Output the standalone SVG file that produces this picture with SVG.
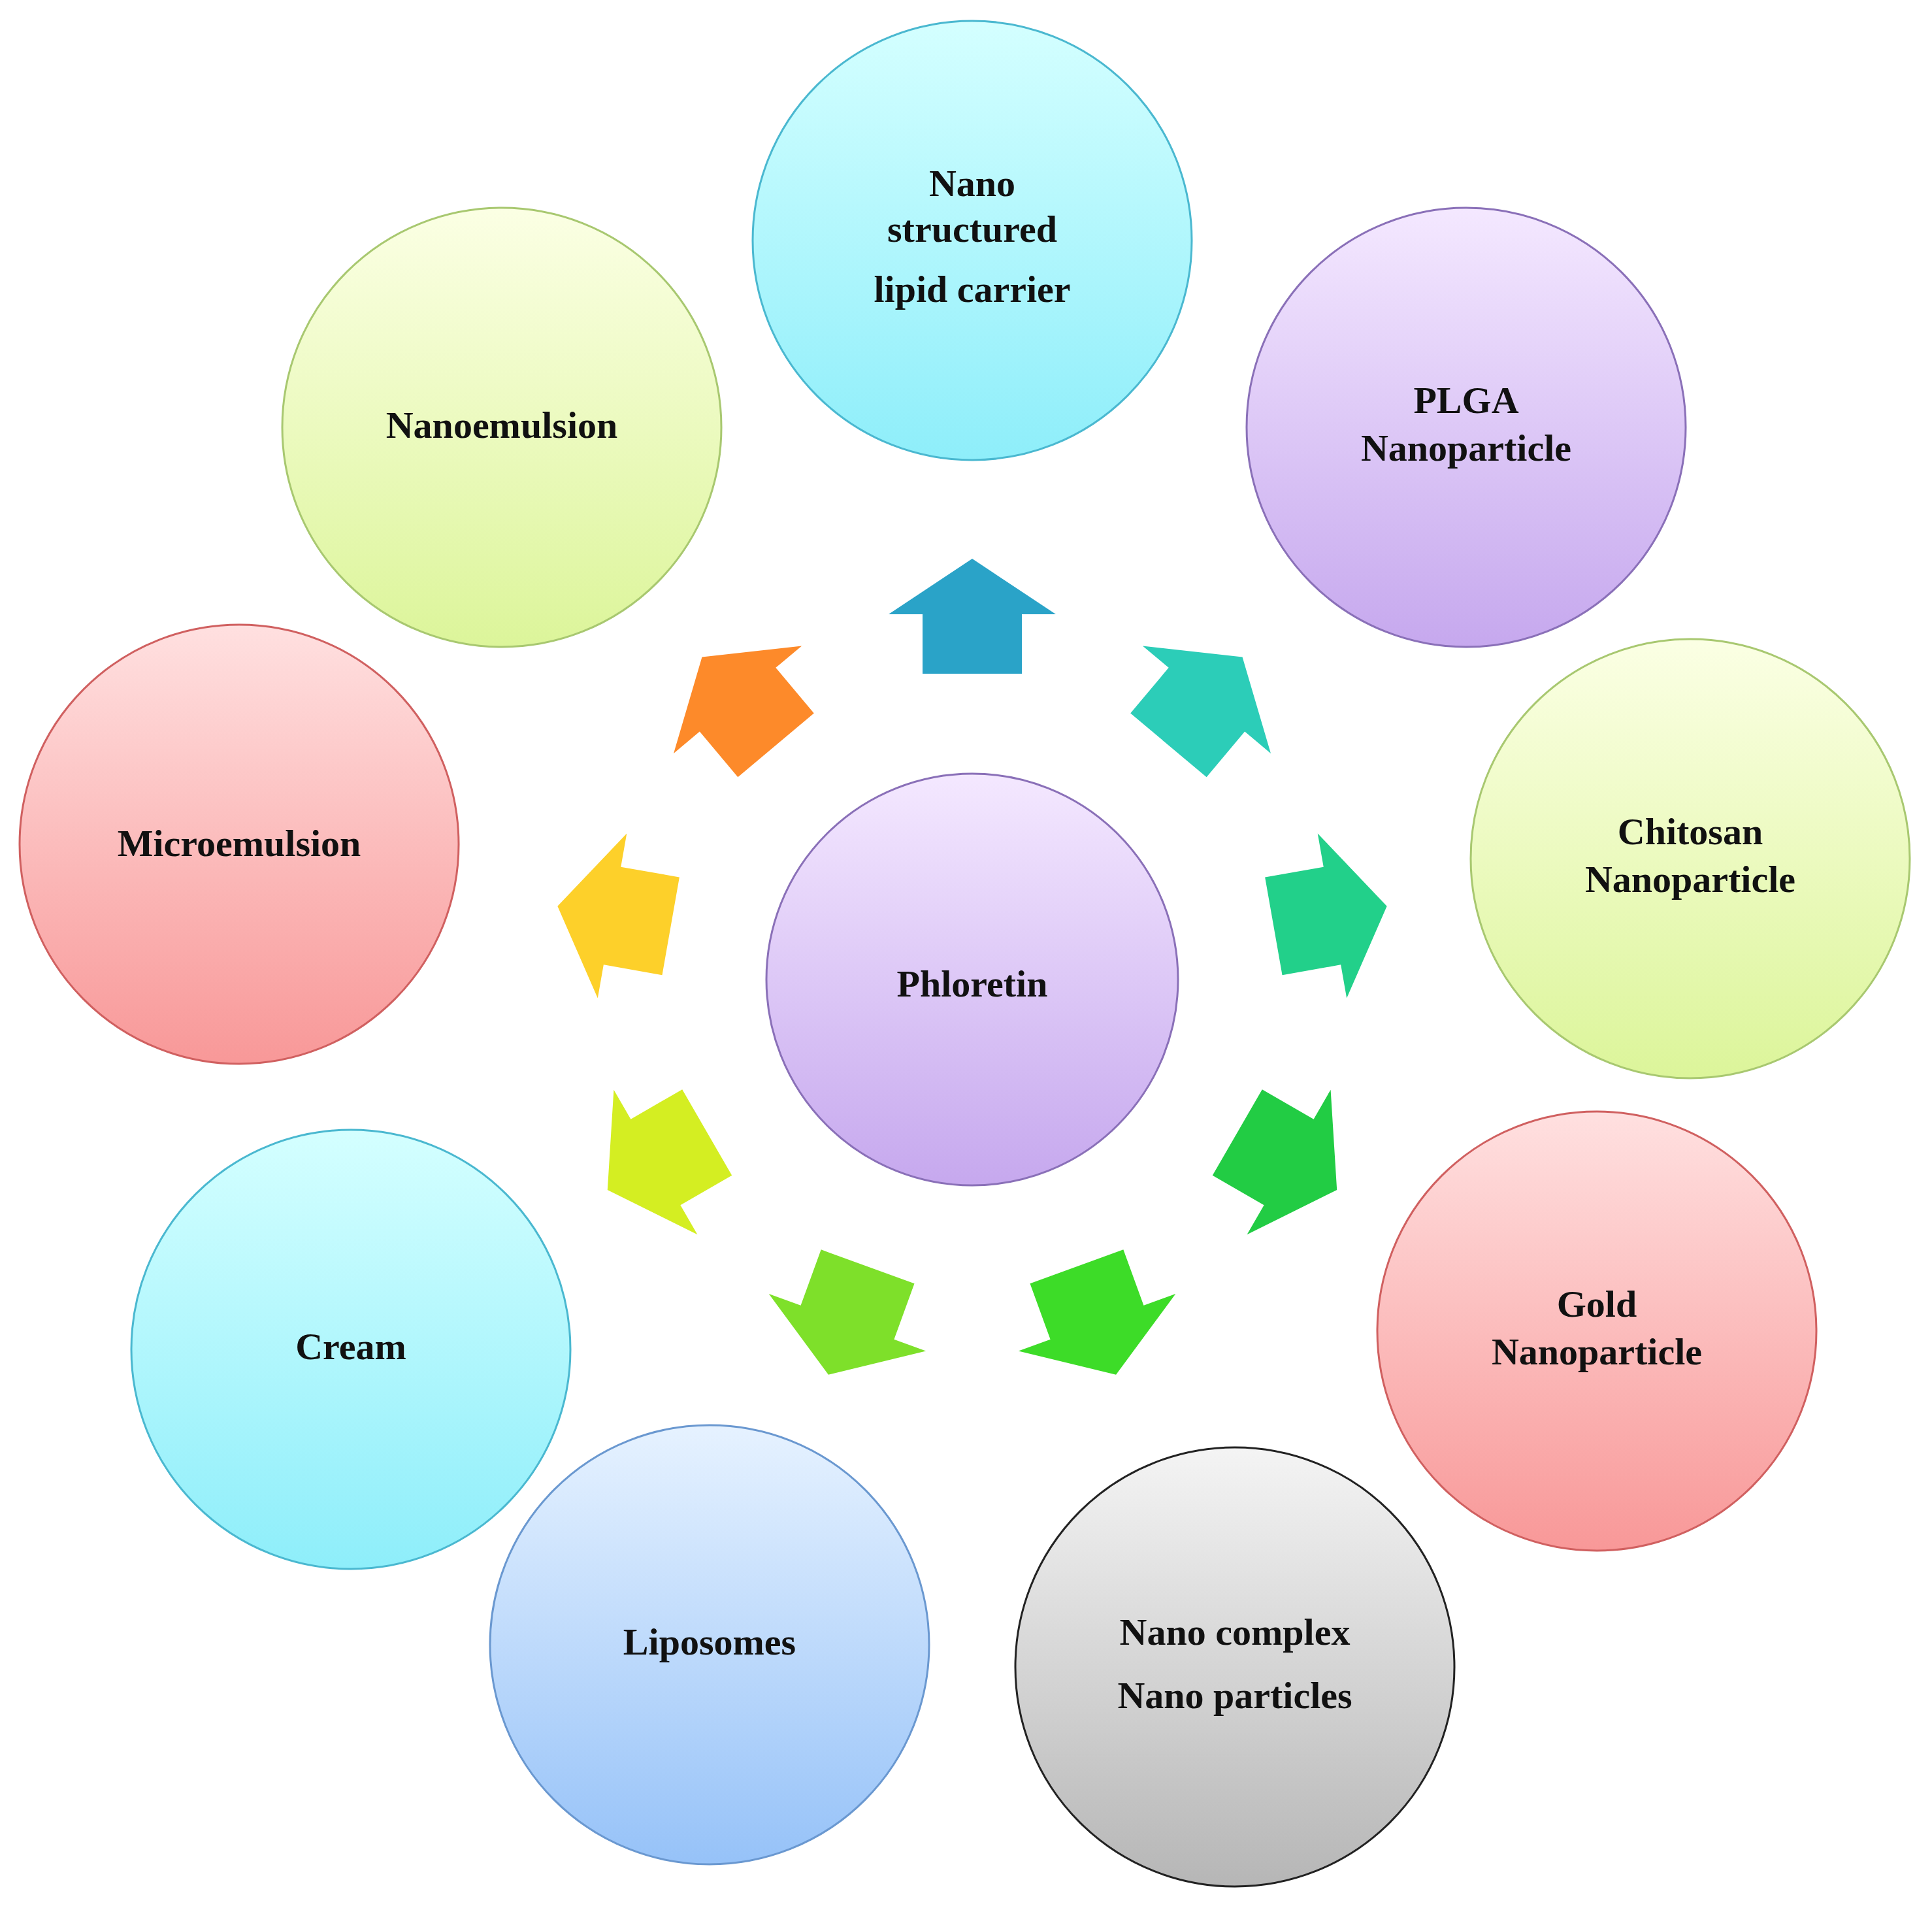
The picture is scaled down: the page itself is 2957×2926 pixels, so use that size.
<svg xmlns="http://www.w3.org/2000/svg" width="2957" height="2926" viewBox="0 0 2957 2926">
<defs>
<linearGradient id="cy" x1="0" y1="0" x2="0" y2="1"><stop offset="0" stop-color="#d4ffff"/><stop offset="1" stop-color="#8eeefa"/></linearGradient>
<linearGradient id="pu" x1="0" y1="0" x2="0" y2="1"><stop offset="0" stop-color="#f4e8ff"/><stop offset="1" stop-color="#c6a8ee"/></linearGradient>
<linearGradient id="li" x1="0" y1="0" x2="0" y2="1"><stop offset="0" stop-color="#fbffe4"/><stop offset="1" stop-color="#dcf59a"/></linearGradient>
<linearGradient id="re" x1="0" y1="0" x2="0" y2="1"><stop offset="0" stop-color="#ffe0e0"/><stop offset="1" stop-color="#f89898"/></linearGradient>
<linearGradient id="gr" x1="0" y1="0" x2="0" y2="1"><stop offset="0" stop-color="#f4f4f4"/><stop offset="1" stop-color="#b6b6b6"/></linearGradient>
<linearGradient id="bl" x1="0" y1="0" x2="0" y2="1"><stop offset="0" stop-color="#e6f2ff"/><stop offset="1" stop-color="#96c2f8"/></linearGradient>
<path id="arr" d="M-76,88 L-76,-3 L-128,-3 L0,-88 L128,-3 L76,-3 L76,88 Z"/>
</defs>
<style>
circle{stroke-width:3}
text{font-family:"Liberation Serif",serif;font-weight:bold;font-size:58px;text-anchor:middle;fill:#111}
</style>
<rect width="2957" height="2926" fill="#fff"/>
<g id="connectors">
<use href="#arr" fill="#2aa3c8" transform="translate(1488,943) rotate(0)"/>
<use href="#arr" fill="#2ccdb8" transform="translate(1845,1073) rotate(40)"/>
<use href="#arr" fill="#22d08a" transform="translate(2036,1402) rotate(80)"/>
<use href="#arr" fill="#22cc44" transform="translate(1970,1777) rotate(120)"/>
<use href="#arr" fill="#3ddc28" transform="translate(1678,2021) rotate(160)"/>
<use href="#arr" fill="#7ee02a" transform="translate(1298,2021) rotate(200)"/>
<use href="#arr" fill="#d4ee22" transform="translate(1006,1777) rotate(240)"/>
<use href="#arr" fill="#fdd02a" transform="translate(940,1402) rotate(280)"/>
<use href="#arr" fill="#fd8a2a" transform="translate(1131,1073) rotate(320)"/>
</g>
<g id="center"><circle cx="1488" cy="1499" r="315" fill="url(#pu)" stroke="#8a70b8"/><text x="1488" y="1525" font-size="98">Phloretin</text></g>
<g id="nlc"><circle cx="1488" cy="368" r="336" fill="url(#cy)" stroke="#4ab8d0"/><text x="1488" y="300">Nano</text><text x="1488" y="370">structured</text><text x="1488" y="462">lipid carrier</text></g>
<g id="plga"><circle cx="2244" cy="654" r="336" fill="url(#pu)" stroke="#8a70b8"/><text x="2244" y="632">PLGA</text><text x="2244" y="705">Nanoparticle</text></g>
<g id="chitosan"><circle cx="2587" cy="1314" r="336" fill="url(#li)" stroke="#a8c870"/><text x="2587" y="1292">Chitosan</text><text x="2587" y="1365">Nanoparticle</text></g>
<g id="gold"><circle cx="2444" cy="2037" r="336" fill="url(#re)" stroke="#d06060"/><text x="2444" y="2015">Gold</text><text x="2444" y="2088">Nanoparticle</text></g>
<g id="complex"><circle cx="1890" cy="2551" r="336" fill="url(#gr)" stroke="#222"/><text x="1890" y="2517">Nano complex</text><text x="1890" y="2614">Nano particles</text></g>
<g id="liposomes"><circle cx="1086" cy="2517" r="336" fill="url(#bl)" stroke="#6a98d0"/><text x="1086" y="2532">Liposomes</text></g>
<g id="cream"><circle cx="537" cy="2065" r="336" fill="url(#cy)" stroke="#4ab8d0"/><text x="537" y="2080">Cream</text></g>
<g id="micro"><circle cx="366" cy="1292" r="336" fill="url(#re)" stroke="#d06060"/><text x="366" y="1310">Microemulsion</text></g>
<g id="nano"><circle cx="768" cy="654" r="336" fill="url(#li)" stroke="#a8c870"/><text x="768" y="670">Nanoemulsion</text></g>
</svg>
